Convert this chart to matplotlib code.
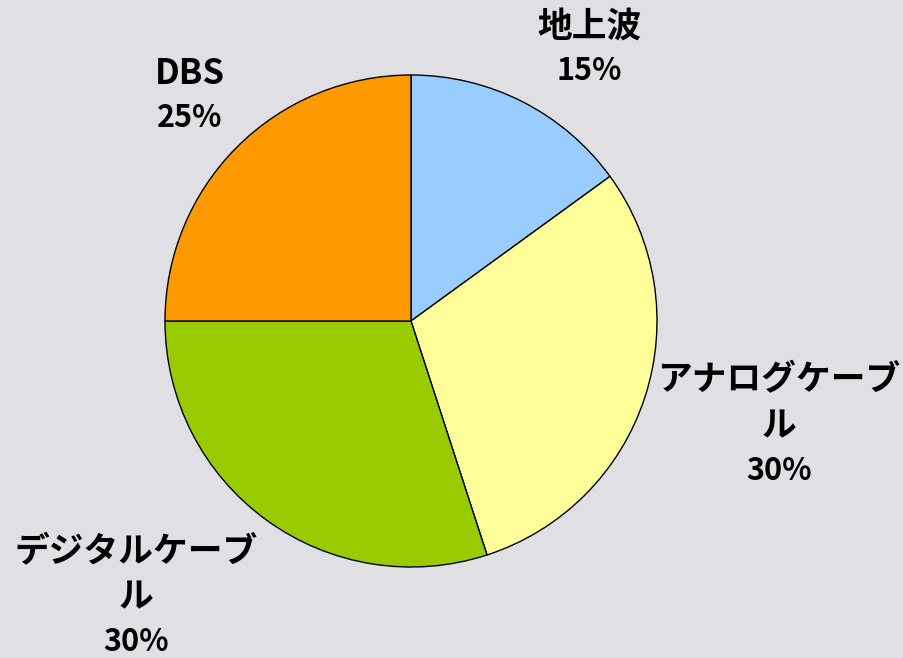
import textwrap
import matplotlib
matplotlib.use("Agg")
import matplotlib.pyplot as plt

plt.rcParams['font.family'] = ['Noto Sans CJK JP', 'DejaVu Sans']

categories = ["地上波", "アナログケーブル", "デジタルケーブル", "DBS"]
shares = [15, 30, 30, 25]
colors = ["#99CCFF", "#FFFF99", "#99CC00", "#FF9900"]

W, H = 904, 658
bg = "#E0E0E4"
fig = plt.figure(figsize=(W / 100, H / 100), dpi=100, facecolor=bg)
ax = fig.add_axes([0, 0, 1, 1])
ax.set_facecolor(bg)

cx, cy, r = 411, H - 321, 246
ax.pie(shares, colors=colors, startangle=90, counterclock=False,
       center=(cx, cy), radius=r,
       wedgeprops=dict(edgecolor="black", linewidth=1.0))
ax.set_xlim(0, W)
ax.set_ylim(0, H)
ax.set_aspect("equal")
ax.axis("off")

# label block centres (pixel layout, y from top)
label_pos = [(589, 49), (779, 426), (136, 597), (190, 96)]
step = 46
for name, val, (x, yc) in zip(categories, shares, label_pos):
    lines = textwrap.wrap(name, 7)
    n = len(lines) + 1
    y0 = yc - (n - 1) / 2 * step
    for i, ln in enumerate(lines):
        ax.text(x, H - (y0 + i * step), ln, ha="center", va="center",
                fontsize=25, fontweight="bold", color="black")
    ax.text(x, H - (y0 + (n - 1) * step) + 1, f"{val}%", ha="center",
            va="center", fontsize=22, fontweight="bold", color="black")

fig.savefig("out.png", dpi=100, facecolor=bg)
